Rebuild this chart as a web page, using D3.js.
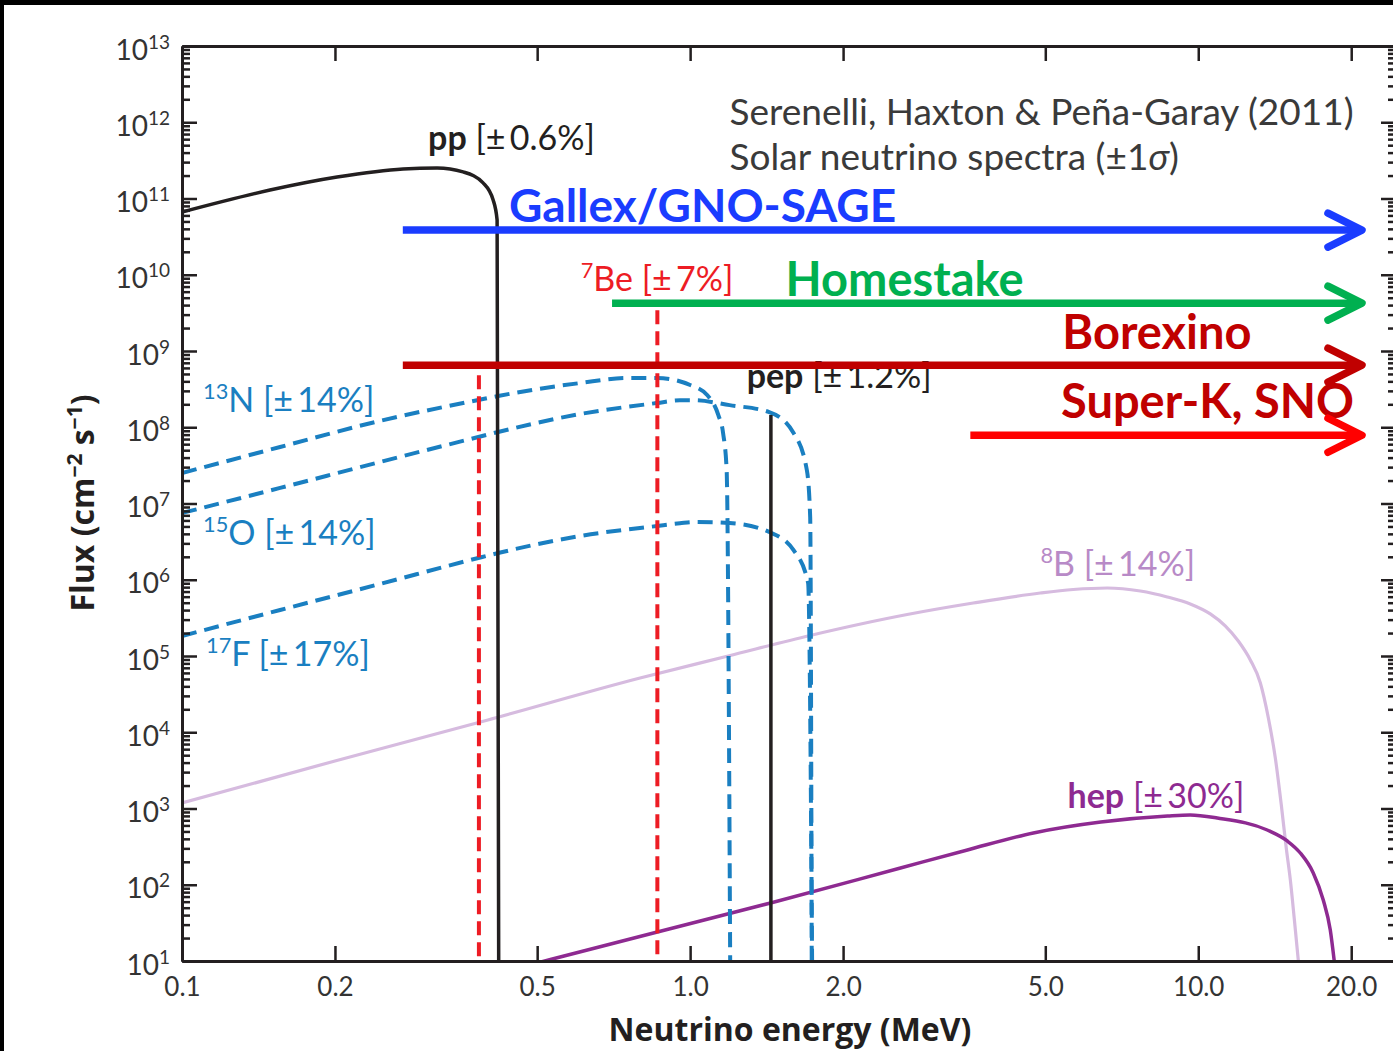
<!DOCTYPE html>
<html>
<head>
<meta charset="utf-8">
<script src="https://cdn.jsdelivr.net/npm/d3@7"></script>
<style>
  html, body { margin: 0; padding: 0; background: #000; }
  svg { display: block; }
  text { font-family: Lato, "Open Sans", sans-serif; }
</style>
</head>
<body>
<div id="chart"></div>
<script>
// Energies in MeV, fluxes in cm^-2 s^-1 (MeV^-1 for continua)
const ppE  = [0.1, 0.149, 0.2019, 0.2723, 0.3177, 0.3574, 0.3913, 0.4096, 0.417, 0.420];
const ppF  = [6.65e10, 1.29e11, 1.91e11, 2.44e11, 2.51e11, 2.23e11, 1.60e11, 9.55e10, 5.22e10, 10];

const n13E = [0.1, 0.156, 0.245, 0.383, 0.419, 0.6075, 0.752, 0.861, 1.0, 1.08, 1.136, 1.161, 1.18, 1.199];
const n13F = [2.51e7, 5.51e7, 1.21e8, 2.28e8, 2.57e8, 3.80e8, 4.43e8, 4.43e8, 3.58e8, 2.65e8, 1.45e8, 8.41e7, 2.75e7, 10];

const o15E = [0.1, 0.156, 0.245, 0.383, 0.419, 0.6075, 0.861, 0.955, 1.016, 1.196, 1.431, 1.598, 1.697, 1.723, 1.735];
const o15F = [7.50e6, 1.60e7, 3.50e7, 7.45e7, 8.67e7, 1.49e8, 2.08e8, 2.26e8, 2.26e8, 1.95e8, 1.58e8, 8.41e7, 2.75e7, 6.6e6, 10];

const f17E = [0.1, 0.156, 0.245, 0.383, 0.419, 0.6075, 0.861, 0.955, 1.016, 1.196, 1.431, 1.598, 1.707, 1.738];
const f17F = [1.83e5, 4.01e5, 8.79e5, 1.93e6, 2.24e6, 3.75e6, 5.07e6, 5.50e6, 5.71e6, 5.55e6, 4.23e6, 2.45e6, 9.06e5, 10];

const b8E = [0.1, 0.2, 0.4, 0.797, 1.188, 1.723, 2.674, 3.607, 4.887, 5.675, 6.62, 7.69, 8.69, 9.644, 10.56, 11.30, 11.99, 12.66, 13.25, 13.74, 14.18, 14.57, 14.90, 15.18, 15.46, 15.74];
const b8F = [1.18e3, 4.20e3, 1.45e4, 5.14e4, 1.0e5, 1.86e5, 3.50e5, 4.95e5, 6.70e5, 7.45e5, 7.80e5, 7.11e5, 5.94e5, 4.81e5, 3.56e5, 2.48e5, 1.57e5, 8.87e4, 4.43e4, 1.54e4, 4.59e3, 1.11e3, 303, 115, 34.5, 10];

const hepE = [0.5, 0.862, 1.44, 2.594, 3.513, 4.737, 6.43, 8.70, 9.64, 10.9, 13.67, 14.97, 15.88, 16.84, 17.62, 18.19, 18.52];
const hepF = [9.42, 24.0, 57.7, 166, 286, 478, 665, 798, 822, 750, 522, 375, 261, 143, 63.1, 25.5, 10];

// line sources: 7Be (two lines) and pep
const lineE = [0.384, 0.862, 1.442];
const lineF = [4.8e8, 3.43e9, 1.45e8];
const lineKind = ["be7", "be7", "pep"];

// experiment thresholds (arrows)
const expNames = ["Gallex/GNO-SAGE", "Homestake", "Borexino", "Super-K, SNO"];
const expFrom  = [0.272, 0.702, 0.272, 3.56];
const expTo    = [21.0, 21.0, 21.0, 21.0];
const expFlux  = [3.85e10, 4.24e9, 6.52e8, 7.85e7];
const expColor = ["#1a3cff", "#00b050", "#c00000", "#ff0000"];

const xTicks = [0.1, 0.2, 0.5, 1, 2, 5, 10, 20];
const yDecades = d3.range(1, 14).map(k => Math.pow(10, k));
const yMinor = d3.range(1, 13).flatMap(k => d3.range(2, 10).map(m => m * Math.pow(10, k)));

const W = 1393, H = 1051;
const svg = d3.select("#chart").append("svg").attr("width", W).attr("height", H);
svg.append("rect").attr("width", W).attr("height", H).attr("fill", "#000");
svg.append("rect").attr("x", 4).attr("y", 5).attr("width", W).attr("height", H).attr("fill", "#fff");

const x = d3.scaleLog().domain([0.1, 24.5]).range([182, 1396]);
const y = d3.scaleLog().domain([10, 1e13]).range([961, 46]);
const axisColor = "#231f20";

svg.append("clipPath").attr("id", "plot")
  .append("rect").attr("x", 182).attr("y", 46).attr("width", 1396 - 182).attr("height", 961 - 46);

const plot = svg.append("g").attr("clip-path", "url(#plot)");
const line = d3.line().x(d => x(d[0])).y(d => y(d[1])).curve(d3.curveMonotoneX);
const zip = (a, b) => a.map((v, i) => [v, b[i]]);

// continua
const series = [
  { pts: zip(b8E, b8F), color: "#d6bbdf", width: 3.2, dash: null },
  { pts: zip(hepE, hepF), color: "#8e2a91", width: 3.5, dash: null },
  { pts: zip(f17E, f17F), color: "#1a7fc1", width: 4, dash: "15,8" },
  { pts: zip(o15E, o15F), color: "#1a7fc1", width: 4, dash: "15,8" },
  { pts: zip(n13E, n13F), color: "#1a7fc1", width: 4, dash: "15,8" },
  { pts: zip(ppE, ppF), color: "#231f20", width: 3.5, dash: null }
];
plot.selectAll("path.spec").data(series).enter().append("path")
  .attr("class", "spec")
  .attr("d", d => line(d.pts))
  .attr("fill", "none")
  .attr("stroke", d => d.color)
  .attr("stroke-width", d => d.width)
  .attr("stroke-dasharray", d => d.dash);

// line spectra
plot.selectAll("line.mono").data(lineE).enter().append("line")
  .attr("class", "mono")
  .attr("x1", d => x(d)).attr("x2", d => x(d))
  .attr("y1", (d, i) => y(lineF[i])).attr("y2", y(10))
  .attr("stroke", (d, i) => lineKind[i] === "pep" ? "#231f20" : "#ed1c24")
  .attr("stroke-width", (d, i) => lineKind[i] === "pep" ? 3.5 : 4)
  .attr("stroke-dasharray", (d, i) => lineKind[i] === "pep" ? null : "14,7");

// axes
function styleAxis(g) {
  g.select(".domain").attr("stroke", axisColor).attr("stroke-width", 3);
  g.selectAll(".tick line").attr("stroke", axisColor).attr("stroke-width", 2.5);
}
svg.append("g").attr("transform", "translate(182,0)")
  .call(d3.axisLeft(y).tickValues(yMinor).tickSize(-8).tickSizeOuter(0).tickFormat(""))
  .call(styleAxis);
svg.append("g").attr("transform", "translate(1396,0)")
  .call(d3.axisRight(y).tickValues(yMinor).tickSize(-8).tickSizeOuter(0).tickFormat(""))
  .call(styleAxis);
svg.append("g").attr("transform", "translate(1396,0)")
  .call(d3.axisRight(y).tickValues(yDecades).tickSize(-15).tickSizeOuter(0).tickFormat(""))
  .call(styleAxis);
svg.append("g").attr("transform", "translate(0,46)")
  .call(d3.axisTop(x).tickValues(xTicks.slice(1)).tickSize(-15).tickSizeOuter(0).tickFormat(""))
  .call(styleAxis);

const yAxis = svg.append("g").attr("transform", "translate(182,0)")
  .call(d3.axisLeft(y).tickValues(yDecades).tickSize(-15).tickSizeOuter(0).tickPadding(12).tickFormat(""))
  .call(styleAxis);
yAxis.selectAll(".tick text").each(function (d) {
  const t = d3.select(this).attr("dy", null).attr("y", 13)
    .attr("fill", "#333").style("font-size", "28px");
  t.append("tspan").text("10");
  t.append("tspan").attr("dy", -11).style("font-size", "19px").text(Math.round(Math.log10(d)));
});

const xAxis = svg.append("g").attr("transform", "translate(0,961)")
  .call(d3.axisBottom(x).tickValues(xTicks).tickSize(-15).tickSizeOuter(0).tickPadding(17).tickFormat(d3.format(".1f")))
  .call(styleAxis);
xAxis.selectAll(".tick text").attr("fill", "#333").style("font-size", "26px");
xAxis.selectAll(".tick line").filter(d => d === 0.1).remove();

// axis titles
svg.append("text").attr("x", 790).attr("y", 1041).attr("text-anchor", "middle")
  .attr("fill", axisColor).style("font-family", "'Open Sans', sans-serif")
  .style("font-size", "32px").style("font-weight", 700)
  .text("Neutrino energy (MeV)");
const yt = svg.append("text").attr("transform", "translate(94,503) rotate(-90)").attr("text-anchor", "middle")
  .attr("fill", axisColor).style("font-family", "'Open Sans', sans-serif")
  .style("font-size", "32px").style("font-weight", 700);
yt.append("tspan").text("Flux (cm");
yt.append("tspan").attr("dy", -12).style("font-size", "21px").text("\u22122");
yt.append("tspan").attr("dy", 12).text(" s");
yt.append("tspan").attr("dy", -12).style("font-size", "21px").text("\u22121");
yt.append("tspan").attr("dy", 12).text(")");

// spectrum labels
const thin = "\u2009";
function label(E, F, sup, head, rest, color, size, headWeight) {
  const t = svg.append("text").attr("x", x(E)).attr("y", y(F)).attr("fill", color).style("font-size", size + "px");
  if (sup) t.append("tspan").attr("dy", -size * 0.4).style("font-size", (size * 0.64) + "px").text(sup);
  t.append("tspan").attr("dy", sup ? size * 0.4 : 0).style("font-weight", headWeight || 400).text(head);
  if (rest) t.append("tspan").text(rest);
  return t;
}
const ink = "#231f20";
const cno = "#1a7fc1";
svg.append("text").attr("x", x(1.196)).attr("y", y(9.2e11)).attr("fill", "#3a3a3a").style("font-size", "37px")
  .text("Serenelli, Haxton & Peña-Garay (2011)");
const s2 = svg.append("text").attr("x", x(1.196)).attr("y", y(2.36e11)).attr("fill", "#3a3a3a").style("font-size", "37px");
s2.append("tspan").text("Solar neutrino spectra (±1");
s2.append("tspan").style("font-style", "italic").text("σ");
s2.append("tspan").text(")");

label(0.305, 4.3e11, null, "pp", ` [±${thin}0.6%]`, ink, 34, 700);
label(0.609, 6.1e9, "7", `Be [±${thin}7%]`, null, "#ed1c24", 34);
label(1.292, 3.25e8, null, "pep", ` [±${thin}1.2%]`, ink, 34, 700);
label(0.110, 1.57e8, "13", `N [±${thin}14%]`, null, cno, 34);
label(0.110, 2.83e6, "15", `O [±${thin}14%]`, null, cno, 34);
label(0.1115, 7.3e4, "17", `F [±${thin}17%]`, null, cno, 34);
label(4.89, 1.11e6, "8", `B [±${thin}14%]`, null, "#b88ac7", 34);
label(5.53, 1.03e3, null, "hep", ` [±${thin}30%]`, "#8e2a91", 34, 700);

const expLabelE = [0.440, 1.541, 5.40, 5.37];
const expLabelF = [4.9e10, 5.24e9, 1.06e9, 1.31e8];
const expSize = [46, 47, 47, 47];
svg.selectAll("text.exp").data(expNames).enter().append("text")
  .attr("class", "exp")
  .attr("x", (d, i) => x(expLabelE[i])).attr("y", (d, i) => y(expLabelF[i]))
  .attr("fill", (d, i) => i === 3 ? "#c00000" : expColor[i])
  .style("font-size", (d, i) => expSize[i] + "px").style("font-weight", 700)
  .text(d => d);

// arrows
const arrows = svg.selectAll("g.arrow").data(expNames).enter().append("g").attr("class", "arrow")
  .attr("stroke", (d, i) => expColor[i]).attr("stroke-width", 7.5).attr("fill", "none")
  .attr("stroke-linecap", "round").attr("stroke-linejoin", "round");
arrows.append("line")
  .attr("x1", (d, i) => x(expFrom[i])).attr("x2", (d, i) => x(expTo[i]) - 3)
  .attr("y1", (d, i) => y(expFlux[i])).attr("y2", (d, i) => y(expFlux[i]))
  .attr("stroke-linecap", "butt");
arrows.append("path")
  .attr("d", (d, i) => {
    const tx = x(expTo[i]), ty = y(expFlux[i]);
    return `M${tx - 34},${ty - 17}L${tx},${ty}L${tx - 34},${ty + 17}`;
  });
</script>
</body>
</html>
